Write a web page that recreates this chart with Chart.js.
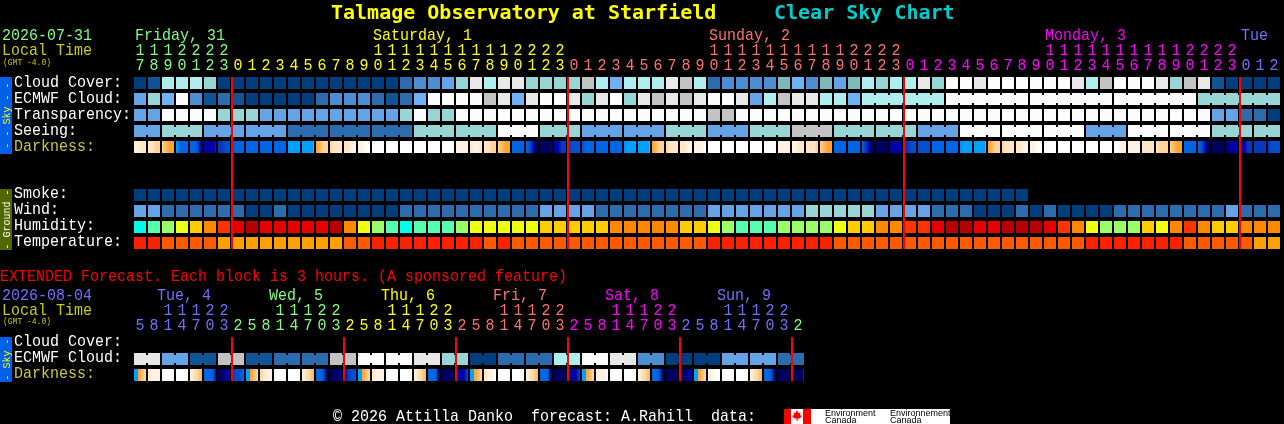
<!DOCTYPE html>
<html>
<head>
<meta charset="utf-8">
<script src="https://cdn.jsdelivr.net/npm/chart.js@4"></script>
<style>
  html, body { margin: 0; padding: 0; background: #000; }
  canvas { display: block; }
</style>
</head>
<body>
<canvas id="csc" width="1284" height="424"></canvas>
<script>
// colour levels
const cloudColors = ["#003e7e","#0f5596","#2a6cad","#4c8ed2","#63a3e6","#6eb1f5","#7fbaba","#98d6d6","#aeeeee","#c3c3c3","#e8e8e8","#fcfcfc"];
const humidColors = ["#00ffe8","#55ffb0","#99ff66","#eeff11","#ffcc00","#ff8800","#ff3300","#e80000","#b80000"];
const tempColors = ["#ff2000","#ff5a00","#ffa000"];
const darkColors = ["#ffffff","#fff2e0","#ffe6c4","#ffd49a","#ffb860","#ffa030","#40d0b0","#00a0ff","#0090f8","#0066e6","#0050d0","#0838c0","#0000a8","#000060"];

const cloudCover = [0,1,8,8,8,7,0,0,0,0,0,0,0,0,0,0,0,0,0,2,3,3,4,7,10,8,10,10,7,7,7,7,9,8,5,8,8,8,10,9,8,2,3,3,3,3,6,5,3,6,4,6,8,7,8,8,10,7,11,11,10,11,11,11,11,11,11,10,8,9,11,11,11,10,7,9,10,1,0,0,0,0];
const ecmwfCloud = [4,7,5,11,3,1,2,1,0,0,0,0,0,2,3,3,3,2,1,2,5,11,11,11,11,9,10,5,10,11,11,10,7,10,11,7,10,9,10,9,10,11,11,10,4,8,9,10,10,8,8,5,8,8,8,8,8,8,11,11,11,11,11,11,11,11,11,11,11,11,11,11,11,11,11,11,7,7,7,7,7,7];
const transparency = [4,4,11,11,11,11,7,7,7,4,4,4,4,4,4,4,4,4,4,7,11,7,7,11,11,11,11,11,11,11,11,11,11,11,11,11,11,11,11,11,11,9,9,11,11,11,11,11,11,11,11,11,11,11,11,11,11,11,11,11,11,11,11,11,11,11,11,11,11,11,11,11,11,11,11,11,11,4,4,2,2,0];
const seeing = [4,4,7,7,7,4,4,4,4,4,4,2,2,2,2,2,2,2,2,2,7,7,7,7,7,7,11,11,11,7,7,7,4,4,4,4,4,4,7,7,7,4,4,4,7,7,7,9,9,9,7,7,7,7,7,7,4,4,4,11,11,11,11,11,11,11,11,11,4,4,4,11,11,11,11,11,11,7,7,7,7,7];
const smoke = [0,0,0,0,0,0,0,0,0,0,0,0,0,0,0,0,0,0,0,0,0,0,0,0,0,0,0,0,0,0,0,0,0,0,0,0,0,0,0,0,0,0,0,0,0,0,0,0,0,0,0,0,0,0,0,0,0,0,0,0,0,0,0,0];
const wind = [4,4,2,2,2,2,2,2,0,0,2,0,0,0,0,0,0,0,0,2,2,2,2,2,2,2,2,2,2,4,4,4,4,2,2,2,2,2,2,2,2,4,4,4,4,4,4,4,7,7,7,7,7,4,4,4,4,2,2,2,0,0,0,2,0,2,0,0,0,0,2,2,2,2,2,2,2,2,4,2,2,2];
const humidity = [0,1,2,3,4,5,6,7,8,7,7,7,7,7,8,5,3,2,1,0,1,1,1,2,3,3,3,3,3,4,4,4,4,4,5,5,5,5,5,4,4,3,2,1,1,1,2,2,2,2,3,4,4,5,5,6,6,7,8,8,7,7,8,8,8,7,6,5,3,2,2,2,4,3,5,6,5,4,4,5,5,5];
const temperature = [0,0,1,1,1,1,2,2,2,2,2,2,2,2,2,1,1,0,0,0,0,0,0,0,0,1,0,1,1,1,1,1,1,1,1,1,1,1,1,1,1,0,0,0,0,0,0,0,0,0,1,1,1,1,1,1,1,1,1,1,1,1,1,1,1,1,1,1,0,0,0,0,0,0,0,1,1,1,1,1,2,2];
const darkness = [
  [1,1,2,2,2],[2,2,3,3,3],[3,4,5,5,6],[7,9,9,9,9],[9,9,10,12,12],[12,12,12,12,11],[11,11,10,10,10],[10,9,9,9,9],[9,9,9,9,9],[9,9,9,9,9],[9,9,9,9,9],[7,7,7,7,7],[7,7,7,7,6],[5,4,3,3,3],[3,2,2,2,2],[2,2,1,1,1],[1,1,0,0,0],
  [0,0,0,0,0],[0,0,0,0,0],[0,0,0,0,0],[0,0,0,0,0],[0,0,0,0,0],[0,0,0,0,0],[1,1,1,1,1],[2,1,1,2,2],[2,2,3,3,3],[3,4,5,5,6],[9,9,9,9,9],[9,10,12,13,13],[13,13,13,13,12],[12,12,11,11,11],[11,10,10,10,10],[10,9,9,9,9],[9,9,9,9,9],[9,9,9,9,9],[8,7,7,7,7],[7,7,7,7,6],[5,4,3,3,3],[3,2,2,2,2],[2,2,1,1,1],[1,1,1,0,0],
  [0,0,0,0,0],[0,0,0,0,0],[0,0,0,0,0],[0,0,0,0,0],[0,0,0,0,0],[1,1,1,1,1],[1,1,2,2,2],[2,2,2,3,3],[3,4,5,5,6],[9,9,9,9,9],[9,9,9,9,9],[9,11,12,13,13],[13,13,13,13,13],[12,12,12,12,12],[11,11,10,10,10],[10,10,10,10,10],[9,9,9,9,9],[9,9,9,9,9],[8,7,7,7,7],[7,7,7,7,6],[5,4,3,3,3],[3,2,2,2,2],[2,2,1,1,1],[1,1,0,0,0],
  [0,0,0,0,0],[0,0,0,0,0],[0,0,0,0,0],[0,0,0,0,0],[0,0,0,0,0],[0,0,1,1,1],[1,1,1,1,1],[2,2,2,2,2],[2,3,3,3,3],[3,4,5,5,6],[9,9,9,9,9],[9,10,12,13,13],[13,13,13,13,13],[13,12,12,12,12],[12,12,11,11,11],[11,11,11,11,11],[11,10,10,10,10]
];
const extEcmwf = [10,10,4,4,1,1,9,9,1,1,2,2,2,2,9,9,11,11,11,11,10,10,7,7,0,0,2,2,2,2,8,8,11,11,10,10,3,3,0,0,0,0,4,4,4,4,2,2];
const extDarkness = [
  [7,5,4,3,3],[2,1,1,1,1],[0,0,0,0,0],[0,0,0,0,0],[1,2,3,4,4],[9,9,9,11,13],[13,13,12,12,12],[11,10,10,9,9],
  [7,5,4,3,3],[3,2,1,1,1],[0,0,0,0,0],[0,0,0,0,0],[1,2,3,4,4],[9,9,10,13,13],[13,13,13,12,12],[12,11,10,10,9],
  [7,5,4,3,3],[2,1,1,1,1],[0,0,0,0,0],[0,0,0,0,0],[1,2,3,4,4],[9,9,9,13,13],[13,13,13,13,13],[12,12,12,11,10],
  [7,5,4,3,3],[2,1,1,0,0],[0,0,0,0,0],[0,0,0,0,0],[1,2,3,4,4],[9,9,9,13,13],[13,13,13,13,13],[13,12,12,11,11],
  [7,5,4,3,3],[1,1,1,0,0],[0,0,0,0,0],[0,0,0,0,0],[1,2,3,4,4],[9,9,10,13,13],[13,13,13,13,13],[13,13,12,12,12],
  [7,5,4,3,3],[1,1,0,0,0],[0,0,0,0,0],[0,0,0,0,0],[1,2,3,4,4],[9,9,10,13,13],[13,13,13,13,13],[13,13,13,13,10]
];

const midnightCols = [7,31,55,79];
const extMidnightCols = [7,15,23,31,39,47];

// hour axis labels
const hours = [17,18,19,20,21,22,23,0,1,2,3,4,5,6,7,8,9,10,11,12,13,14,15,16,17,18,19,20,21,22,23,0,1,2,3,4,5,6,7,8,9,10,11,12,13,14,15,16,17,18,19,20,21,22,23,0,1,2,3,4,5,6,7,8,9,10,11,12,13,14,15,16,17,18,19,20,21,22,23,0,1,2];
const extHours = [5,8,11,14,17,20,23,2,5,8,11,14,17,20,23,2,5,8,11,14,17,20,23,2,5,8,11,14,17,20,23,2,5,8,11,14,17,20,23,2,5,8,11,14,17,20,23,2];
const days = ["Friday, 31","Saturday, 1","Sunday, 2","Monday, 3","Tue"];
const dayStart = [0,7,31,55,79];
const dayTitleCol = [0,17,41,65,79];
const extDays = ["Tue, 4","Wed, 5","Thu, 6","Fri, 7","Sat, 8","Sun, 9",""];
const extDayStart = [0,7,15,23,31,39,47];
const extDayTitleCol = [2,10,18,26,34,42,47];
const dayColors = ["#80ff80","#ffff00","#ff7070","#ff00ff","#7070ff"];
const extDayColors = ["#7070ff","#80ff80","#ffff00","#ff7070","#ff00ff","#7070ff","#80ff80"];
const skyLabels = ["Cloud Cover:","ECMWF Cloud:","Transparency:","Seeing:","Darkness:"];
const groundLabels = ["Smoke:","Wind:","Humidity:","Temperature:"];
const extLabels = ["Cloud Cover:","ECMWF Cloud:","Darkness:"];

const ROW = 0.75; // cell height in row units (16px pitch)

function rowBars(values, row, colors) {
  return {
    data: values.map((v, i) => ({ x: i, y: [row, row + ROW] })),
    backgroundColor: values.map(v => colors[v]),
    maxBarThickness: 12
  };
}

// the merged blocks are joined by a short piece in the gap between two cells
function bridges(values, row, colors, start, size, from) {
  const pts = [], cols = [];
  for (let i = from; i < values.length - 1; i++) {
    if (Math.floor((i - start) / size) === Math.floor((i + 1 - start) / size)) {
      pts.push({ x: i + 0.5, y: [row + 0.125, row + 0.625] });
      cols.push(colors[values[i]]);
    }
  }
  return { data: pts, backgroundColor: cols, maxBarThickness: 2 };
}

function darkBars(values, row) {
  return {
    data: values.map((v, i) => ({ x: i, y: [row, row + ROW] })),
    maxBarThickness: 12,
    backgroundColor: (c) => {
      const stops = values[c.dataIndex];
      const px = c.chart.scales.x ? c.chart.scales.x.getPixelForValue(c.dataIndex) : NaN;
      if (!stops || !isFinite(px)) return "#000"; // scales not laid out yet
      const g = c.chart.ctx.createLinearGradient(px - 6, 0, px + 6, 0);
      const pos = [0, 0.33, 0.66, 0.9, 1];
      stops.forEach((s, i) => {
        // twilight to night is a hard edge, not a blend
        if (i > 0 && (s >= 6) !== (stops[i - 1] >= 6)) g.addColorStop(pos[i], darkColors[stops[i - 1]]);
        g.addColorStop(pos[i], darkColors[s]);
      });
      return g;
    }
  };
}

function midnightBars(cols, y0, y1) {
  return {
    data: cols.map(c => ({ x: c - 3 / 7, y: [y0, y1] })),
    backgroundColor: "#ff0000",
    maxBarThickness: 2,
    order: -1
  };
}

const datasets = [
  rowBars(cloudCover, 0, cloudColors),
  rowBars(ecmwfCloud, 1, cloudColors),
  bridges(ecmwfCloud, 1, cloudColors, 52, 6, 52),
  rowBars(transparency, 2, cloudColors),
  rowBars(seeing, 3, cloudColors),
  bridges(seeing, 3, cloudColors, 2, 3, 0),
  darkBars(darkness, 4),
  rowBars(smoke, 7, cloudColors),
  rowBars(wind, 8, cloudColors),
  rowBars(humidity, 9, humidColors),
  rowBars(temperature, 10, tempColors),
  rowBars(extEcmwf, 17.25, cloudColors),
  bridges(extEcmwf, 17.25, cloudColors, 0, 2, 0),
  darkBars(extDarkness, 18.25),
  midnightBars(midnightCols, 0, 10.75),
  midnightBars(extMidnightCols, 16.25, 19)
].map(d => Object.assign({
  grouped: false, barPercentage: 20, categoryPercentage: 1,
  borderWidth: 0, inflateAmount: 0, order: 1
}, d));

const MONO = '"Liberation Mono", monospace';
const BOLD = '"DejaVu Sans Mono", monospace';

// all the texts of the chart, placed through the scales where they belong to a column
const textPlugin = {
  id: "cscTexts",
  afterDraw(chart) {
    const c = chart.ctx, xs = chart.scales.x;
    const text = (s, x, y, col, font, tall) => {
      c.save();
      c.font = font || ("15px " + MONO);
      c.fillStyle = col;
      c.translate(x, y);
      c.scale(1, tall || 1.12); // the chart's own font is taller than it is wide
      c.fillText(s, 0, 0);
      c.restore();
    };
    const cellLeft = i => xs.getPixelForValue(i) - 6;

    c.save();
    c.textBaseline = "alphabetic";
    c.textAlign = "left";

    text("Talmage Observatory at Starfield", 331, 19, "#ffff00", "bold 20px " + BOLD, 1);
    text("Clear Sky Chart", 774, 19, "#00cccc", "bold 20px " + BOLD, 1);

    text("2026-07-31", 2, 40, "#80ff80");
    text("Local Time", 2, 55, "#cccc00");
    text("(GMT -4.0)", 3, 65, "#cccc00", "8px " + MONO);
    text("EXTENDED Forecast. Each block is 3 hours. (A sponsored feature)", 0, 281, "#ff0000");
    text("2026-08-04", 2, 300, "#7070ff");
    text("Local Time", 2, 315, "#cccc00");
    text("(GMT -4.0)", 3, 324, "#cccc00", "8px " + MONO);

    skyLabels.forEach((s, i) => text(s, 14, 87 + 16 * i, s === "Darkness:" ? "#c8c840" : "#ffffff"));
    groundLabels.forEach((s, i) => text(s, 14, 198 + 16 * i, "#ffffff"));
    extLabels.forEach((s, i) => text(s, 14, 346 + 16 * i, s === "Darkness:" ? "#c8c840" : "#ffffff"));

    days.forEach((s, i) => text(s, cellLeft(dayTitleCol[i]) + 1, 40, dayColors[i]));
    extDays.forEach((s, i) => text(s, cellLeft(extDayTitleCol[i]) - 5, 300, extDayColors[i]));

    c.textAlign = "center";
    const hourRow = (list, starts, colors, yTens, yOnes) => {
      list.forEach((h, i) => {
        let d = starts.length - 1;
        while (starts[d] > i) d--;
        const x = xs.getPixelForValue(i);
        if (h >= 10) text(String(Math.floor(h / 10)), x, yTens, colors[d]);
        text(String(h % 10), x, yOnes, colors[d]);
      });
    };
    hourRow(hours, dayStart, dayColors, 55, 70);
    hourRow(extHours, extDayStart, extDayColors, 315, 330);

    // side boxes
    const box = (y0, y1, fill, label, col) => {
      c.fillStyle = fill;
      c.fillRect(0, y0, 12, y1 - y0);
      c.save();
      c.translate(9.5, (y0 + y1) / 2);
      c.rotate(-Math.PI / 2);
      c.textAlign = "center";
      text(label, 0, 0, col, "10px " + MONO, 1);
      c.restore();
    };
    box(77, 154, "#0060e8", "- - Sky - -", "#ffff00");
    box(189, 250, "#506800", "- Ground -", "#ffffff");
    box(337, 382, "#0060e8", "- Sky -", "#ffff00");

    // footer with the data source mark
    c.textAlign = "left";
    text("\u00a9 2026 Attilla Danko  forecast: A.Rahill  data:", 333, 421, "#ffffff");
    c.fillStyle = "#ffffff";
    c.fillRect(784, 409, 166, 15);
    c.fillStyle = "#ff0000";
    c.fillRect(784, 409, 7, 15);
    c.fillRect(803, 409, 8, 15);
    c.beginPath();
    [[797,410],[798.5,413],[800.5,412.5],[800,415],[802,416],[799.5,418.5],[797.5,418.5],[797.5,421],[796.5,421],[796.5,418.5],[794.5,418.5],[792,416],[794,415],[793.5,412.5],[795.5,413]]
      .forEach((p, i) => i ? c.lineTo(p[0], p[1]) : c.moveTo(p[0], p[1]));
    c.closePath();
    c.fill();
    const small = "9px 'Liberation Sans', sans-serif";
    text("Environment", 825, 416, "#000000", small, 1);
    text("Canada", 825, 423, "#000000", small, 1);
    text("Environnement", 890, 416, "#000000", small, 1);
    text("Canada", 890, 423, "#000000", small, 1);
    c.restore();
  }
};

new Chart(document.getElementById("csc"), {
  type: "bar",
  data: { datasets },
  options: {
    responsive: false,
    animation: false,
    events: [],
    layout: { padding: 0 },
    plugins: { legend: { display: false }, title: { display: false }, tooltip: { enabled: false } },
    scales: {
      // one column is 14px, first cell centre at 140px; one row is 16px, first row at 77px
      x: { type: "linear", display: false, offset: false, bounds: "data", min: -10, max: 1144 / 14, grid: { display: false } },
      y: { type: "linear", display: false, reverse: true, bounds: "data", min: -77 / 16, max: 347 / 16, grid: { display: false } }
    }
  },
  plugins: [textPlugin]
});
</script>
</body>
</html>
